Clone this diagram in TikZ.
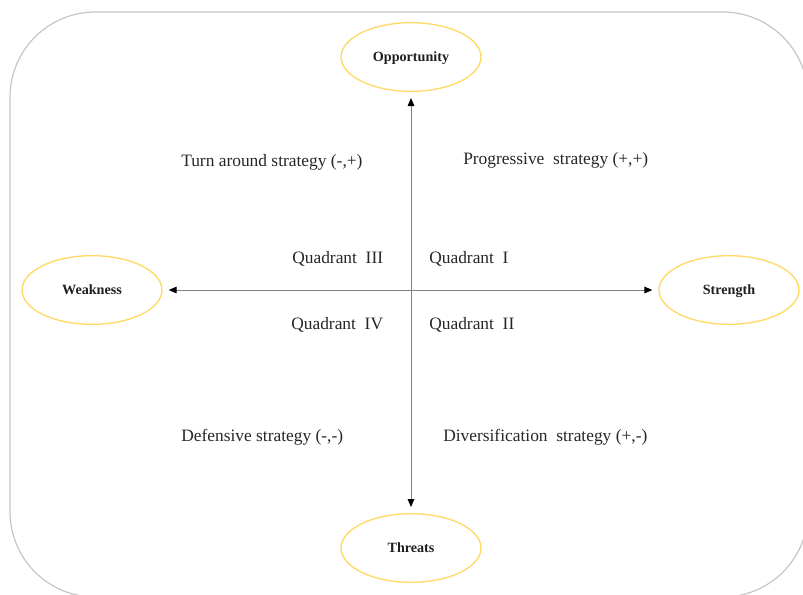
\documentclass[tikz,border=0pt]{standalone}
\usepackage{fontspec}
\setmainfont{Liberation Serif}
\usetikzlibrary{arrows.meta,shapes.geometric}
\definecolor{framegray}{HTML}{C6C6C6}
\definecolor{gold}{HTML}{FFD966}
\definecolor{axisgray}{HTML}{7F7F7F}
\begin{document}
\begin{tikzpicture}[x=0.75pt,y=-0.75pt,
  pole/.style={ellipse, draw=gold, line width=1pt, minimum width=105pt, minimum height=51.5pt, inner sep=0pt, text height=1.45ex, text depth=0pt, font=\fontsize{10.6}{12}\selectfont\bfseries, text=black!88},
  axis/.style={draw=axisgray, line width=0.75pt, {Triangle[length=6pt,width=5pt,color=black]}-{Triangle[length=6pt,width=5pt,color=black]}, shorten >=4.5pt, shorten <=4.5pt},
  lbl/.style={anchor=base west, inner sep=0pt, font=\fontsize{13.05}{16}\selectfont, text=black!85}]
\useasboundingbox (0,0) rectangle (803,594);
\clip (0,0) rectangle (803,594);
\draw[framegray, line width=0.9pt, rounded corners=64pt] (10,12) rectangle (808,597);
\node[pole] (opp) at (411,57) {Opportunity};
\node[pole] (thr) at (411,548) {Threats};
\node[pole] (weak) at (92,290) {Weakness};
\node[pole] (str) at (729,290) {Strength};
\draw[axis] (opp.south) -- (thr.north);
\draw[axis] (weak.east) -- (str.west);
\node[lbl] (t1) at (181,166) {Turn around strategy (-,+)};
\node[lbl] (t2) at (463,164) {Progressive\ \ strategy (+,+)};
\node[lbl] (t3) at (181,441) {Defensive strategy (-,-)};
\node[lbl] (t4) at (443,441) {Diversification\ \ strategy (+,-)};
\node[lbl] (q3) at (292,263) {Quadrant\ \ III};
\node[lbl] (q1) at (429,263) {Quadrant\ \ I};
\node[lbl] (q4) at (291,329) {Quadrant\ \ IV};
\node[lbl] (q2) at (429,329) {Quadrant\ \ II};
\end{tikzpicture}
\end{document}
